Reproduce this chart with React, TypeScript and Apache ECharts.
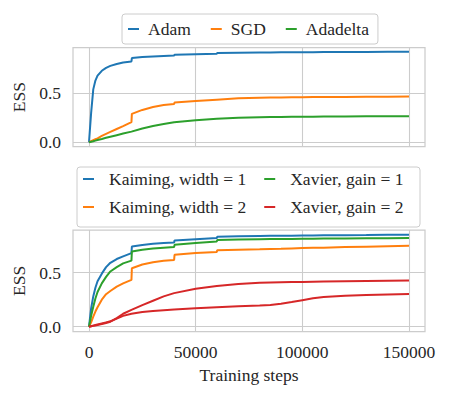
import React, { useEffect, useRef } from "react";
import * as echarts from "echarts";

const steps = [0, 1000, 2000, 3000, 4000, 6000, 8000, 10000, 13000, 16000, 19900, 20100, 25000, 30000, 35000, 39900, 40100, 50000, 59900, 60100, 70000, 80000, 85000, 90000, 95000, 100000, 105000, 110000, 120000, 130000, 140000, 150000];

const adam = [0, 0.30, 0.54, 0.63, 0.68, 0.73, 0.76, 0.78, 0.80, 0.815, 0.825, 0.86, 0.87, 0.875, 0.88, 0.885, 0.895, 0.90, 0.905, 0.912, 0.915, 0.917, 0.918, 0.919, 0.919, 0.92, 0.92, 0.921, 0.922, 0.923, 0.924, 0.925];
const sgd = [0, 0.01, 0.02, 0.03, 0.04, 0.065, 0.085, 0.105, 0.135, 0.165, 0.205, 0.29, 0.33, 0.36, 0.38, 0.39, 0.405, 0.42, 0.435, 0.44, 0.45, 0.455, 0.457, 0.458, 0.459, 0.46, 0.461, 0.462, 0.463, 0.464, 0.465, 0.467];
const adadelta = [0, 0.005, 0.01, 0.016, 0.022, 0.033, 0.045, 0.056, 0.072, 0.088, 0.108, 0.11, 0.14, 0.165, 0.185, 0.203, 0.205, 0.225, 0.24, 0.24, 0.25, 0.255, 0.257, 0.258, 0.259, 0.26, 0.261, 0.262, 0.263, 0.264, 0.265, 0.266];

const kaiming1 = [0, 0.17, 0.28, 0.36, 0.42, 0.49, 0.55, 0.59, 0.625, 0.65, 0.68, 0.74, 0.755, 0.765, 0.772, 0.778, 0.797, 0.808, 0.818, 0.83, 0.835, 0.838, 0.839, 0.84, 0.841, 0.842, 0.843, 0.844, 0.845, 0.846, 0.848, 0.849];
const xavier1 = [0, 0.1, 0.185, 0.26, 0.32, 0.4, 0.46, 0.51, 0.55, 0.585, 0.61, 0.694, 0.71, 0.722, 0.73, 0.735, 0.756, 0.772, 0.787, 0.80, 0.805, 0.808, 0.809, 0.81, 0.811, 0.812, 0.813, 0.814, 0.815, 0.816, 0.817, 0.818];
const kaiming2 = [0, 0.04, 0.093, 0.14, 0.18, 0.25, 0.30, 0.33, 0.37, 0.40, 0.432, 0.54, 0.575, 0.595, 0.61, 0.617, 0.664, 0.68, 0.69, 0.705, 0.71, 0.715, 0.718, 0.72, 0.723, 0.726, 0.728, 0.73, 0.735, 0.739, 0.743, 0.747];
const xavier2a = [0, 0.004, 0.008, 0.012, 0.016, 0.025, 0.034, 0.046, 0.08, 0.12, 0.155, 0.158, 0.2, 0.24, 0.28, 0.31, 0.312, 0.35, 0.375, 0.378, 0.395, 0.405, 0.408, 0.41, 0.412, 0.413, 0.415, 0.417, 0.42, 0.423, 0.425, 0.427];
const xavier2b = [0, 0.005, 0.01, 0.015, 0.02, 0.03, 0.04, 0.05, 0.075, 0.1, 0.12, 0.122, 0.135, 0.145, 0.152, 0.158, 0.16, 0.17, 0.18, 0.182, 0.188, 0.195, 0.2, 0.212, 0.228, 0.245, 0.262, 0.275, 0.285, 0.292, 0.297, 0.302];

const xTicks = [0, 50000, 100000, 150000];
const yTicks = [0, 0.5];

const topNames = ["Adam", "SGD", "Adadelta"];
const bottomRow1 = ["Kaiming, width = 1", "Xavier, gain = 1"];
const bottomRow2 = ["Kaiming, width = 2", "Xavier, gain = 2"];

const BLUE = "#1f77b4";
const ORANGE = "#ff7f0e";
const GREEN = "#2ca02c";
const RED = "#d62728";

const FONT = "Liberation Serif";
const TXT = "#262626";
const GRID = "#cccccc";
const FS = 17.5;

function pairs(vals: number[]) {
  return steps.map((s, i) => [s, vals[i]]);
}

export default function App() {
  const ref = useRef<HTMLDivElement>(null);
  useEffect(() => {
    if (!ref.current) return;
    const chart = echarts.init(ref.current, null, { renderer: "svg" });

    const xAxisBase = (idx: number, showLabels: boolean) => ({
      type: "value",
      gridIndex: idx,
      min: -7500,
      max: 157500,
      axisLine: { show: false },
      axisTick: { show: false, customValues: xTicks },
      splitLine: { show: true, lineStyle: { color: GRID, width: 1.1 } },
      axisLabel: {
        show: showLabels,
        customValues: xTicks,
        margin: 11,
        color: TXT,
        fontFamily: FONT,
        fontSize: FS,
        formatter: (v: number) => String(v),
      },
      name: showLabels ? "Training steps" : "",
      nameLocation: "middle",
      nameGap: 34,
      nameTextStyle: { color: TXT, fontFamily: FONT, fontSize: FS },
    });

    const yAxisBase = (idx: number, min: number, max: number) => ({
      type: "value",
      gridIndex: idx,
      min,
      max,
      axisLine: { show: false },
      axisTick: { show: false, customValues: yTicks },
      splitLine: { show: true, lineStyle: { color: GRID, width: 1.1 } },
      axisLabel: {
        customValues: yTicks,
        margin: 12,
        color: TXT,
        fontFamily: FONT,
        fontSize: FS,
        formatter: (v: number) => v.toFixed(1),
      },
      name: "ESS",
      nameLocation: "middle",
      nameGap: 43,
      nameRotate: 90,
      nameTextStyle: { color: TXT, fontFamily: FONT, fontSize: FS },
    });

    const line = (name: string, color: string, vals: number[], idx: number) => ({
      type: "line",
      name,
      xAxisIndex: idx,
      yAxisIndex: idx,
      data: pairs(vals),
      showSymbol: false,
      symbol: "none",
      color,
      lineStyle: { color, width: 2 },
    });

    const legendCommon = {
      icon: "rect",
      itemWidth: 11,
      itemHeight: 2,
      textStyle: { color: TXT, fontFamily: FONT, fontSize: FS },
    };

    chart.setOption({
      animation: false,
      backgroundColor: "#ffffff",
      textStyle: { fontFamily: FONT },
      grid: [
        { left: 73, top: 47.7, width: 352, height: 99, show: true, borderColor: GRID, borderWidth: 1.25, containLabel: false },
        { left: 73, top: 230, width: 352, height: 101.7, show: true, borderColor: GRID, borderWidth: 1.25, containLabel: false },
      ],
      xAxis: [xAxisBase(0, false), xAxisBase(1, true)],
      yAxis: [yAxisBase(0, -0.046, 0.966), yAxisBase(1, -0.046, 0.893)],
      graphic: [
        {
          type: "rect",
          z: 0,
          shape: { x: 77, y: 167, width: 343, height: 60, r: 3 },
          style: { fill: "rgba(255,255,255,0.8)", stroke: GRID, lineWidth: 1 },
        },
      ],
      legend: [
        {
          ...legendCommon,
          data: topNames,
          left: 122,
          top: 14,
          padding: [6, 9, 6, 6],
          itemGap: 20,
          borderColor: GRID,
          borderWidth: 1,
          borderRadius: 3,
          backgroundColor: "rgba(255,255,255,0.8)",
          textStyle: { ...legendCommon.textStyle, padding: [0, 0, 0, 4] },
        },
        {
          ...legendCommon,
          data: bottomRow1,
          left: 83,
          top: 170,
          padding: 0,
          itemGap: 18,
          textStyle: { ...legendCommon.textStyle, padding: [0, 0, 0, 10] },
        },
        {
          ...legendCommon,
          data: bottomRow2,
          left: 83,
          top: 198,
          padding: 0,
          itemGap: 18,
          textStyle: { ...legendCommon.textStyle, padding: [0, 0, 0, 10] },
        },
      ],
      series: [
        line("Adam", BLUE, adam, 0),
        line("SGD", ORANGE, sgd, 0),
        line("Adadelta", GREEN, adadelta, 0),
        line("Kaiming, width = 1", BLUE, kaiming1, 1),
        line("Kaiming, width = 2", ORANGE, kaiming2, 1),
        line("Xavier, gain = 1", GREEN, xavier1, 1),
        line("Xavier, gain = 2", RED, xavier2a, 1),
        line("Xavier, gain = 2", RED, xavier2b, 1),
      ],
    });
    return () => chart.dispose();
  }, []);
  return (
    <div
      ref={ref}
      style={{ position: "fixed", left: 0, top: 0, width: 450, height: 399, background: "#fff" }}
    />
  );
}
